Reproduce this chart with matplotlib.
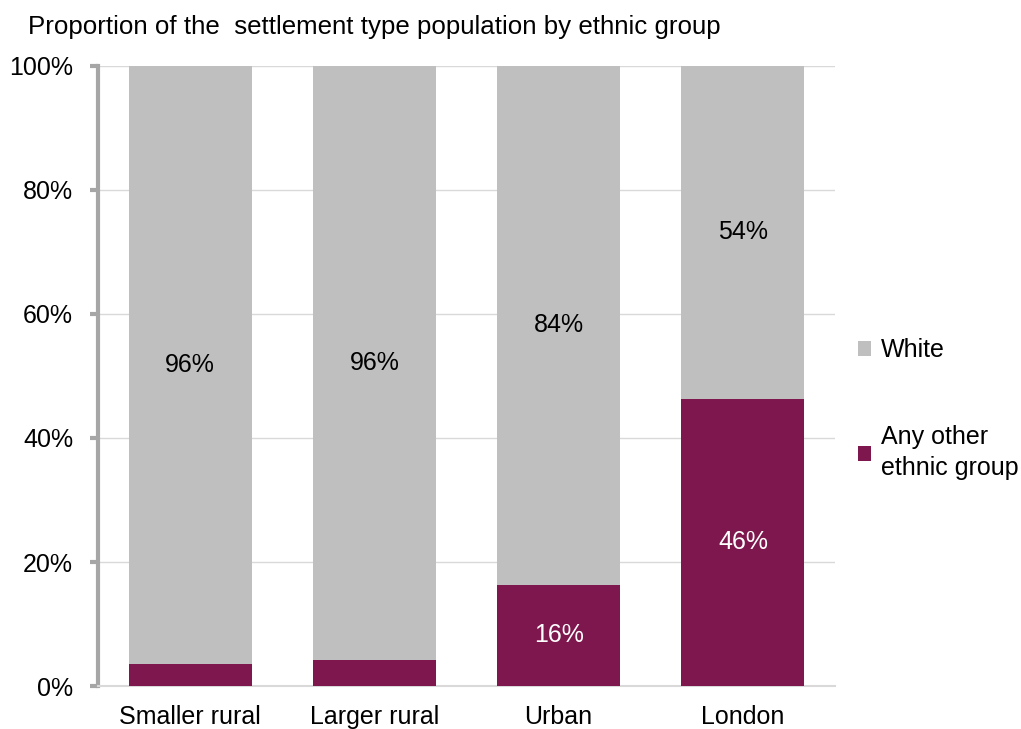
import numpy as np
import matplotlib.pyplot as plt

plt.rcParams['font.family'] = ['Liberation Sans', 'DejaVu Sans']

categories = ['Smaller rural', 'Larger rural', 'Urban', 'London']
other = [3.5, 4.2, 16.3, 46.3]
white = [100 - v for v in other]
white_labels = ['96%', '96%', '84%', '54%']
other_labels = ['', '', '16%', '46%']

grey = '#BFBFBF'
purple = '#7E174D'
fs = 18

fig = plt.figure(figsize=(10.21, 7.29), dpi=100)
ax = fig.add_axes([98 / 1021, 43 / 729, 737 / 1021, 620 / 729])

x = np.arange(len(categories))
b1 = ax.bar(x, other, width=0.667, color=purple, zorder=3, label='Any other\nethnic group')
b2 = ax.bar(x, white, bottom=other, width=0.667, color=grey, zorder=3, label='White')

for i in range(len(categories)):
    ax.text(x[i], other[i] + white[i] / 2, white_labels[i], ha='center', va='center',
            fontsize=fs, color='black', zorder=4)
    if other_labels[i]:
        ax.text(x[i], other[i] / 2, other_labels[i], ha='center', va='center',
                fontsize=fs, color='white', zorder=4)

ax.set_xlim(-0.5, 3.5)
ax.set_ylim(0, 100)
ax.set_yticks(range(0, 101, 20))
ax.set_yticklabels([f'{v}%' for v in range(0, 101, 20)], fontsize=fs)
ax.set_xticks(x)
ax.set_xticklabels(categories, fontsize=fs)
ax.tick_params(axis='x', length=0, pad=13.5)
ax.tick_params(axis='y', length=6, width=3, color='#A6A6A6', pad=12)
ax.grid(axis='y', color='#D9D9D9', linewidth=1, zorder=0)
for s in ['top', 'right']:
    ax.spines[s].set_visible(False)
ax.spines['left'].set_color('#A6A6A6')
ax.spines['left'].set_linewidth(3)
ax.spines['bottom'].set_color('#D9D9D9')
ax.spines['bottom'].set_linewidth(1.5)

leg = ax.legend(handles=[b2, b1], loc='upper left', bbox_to_anchor=(1.0, 0.597),
                frameon=False, fontsize=fs, handlelength=0.55, handleheight=0.55,
                handletextpad=0.4, labelspacing=2.52)
for t in leg.get_texts():
    t.set_linespacing(1.35)

fig.text(28 / 1021, 1 - 27 / 729, 'Proportion of the  settlement type population by ethnic group',
         fontsize=18.6, va='center', ha='left')

fig.savefig('out.png', dpi=100)
